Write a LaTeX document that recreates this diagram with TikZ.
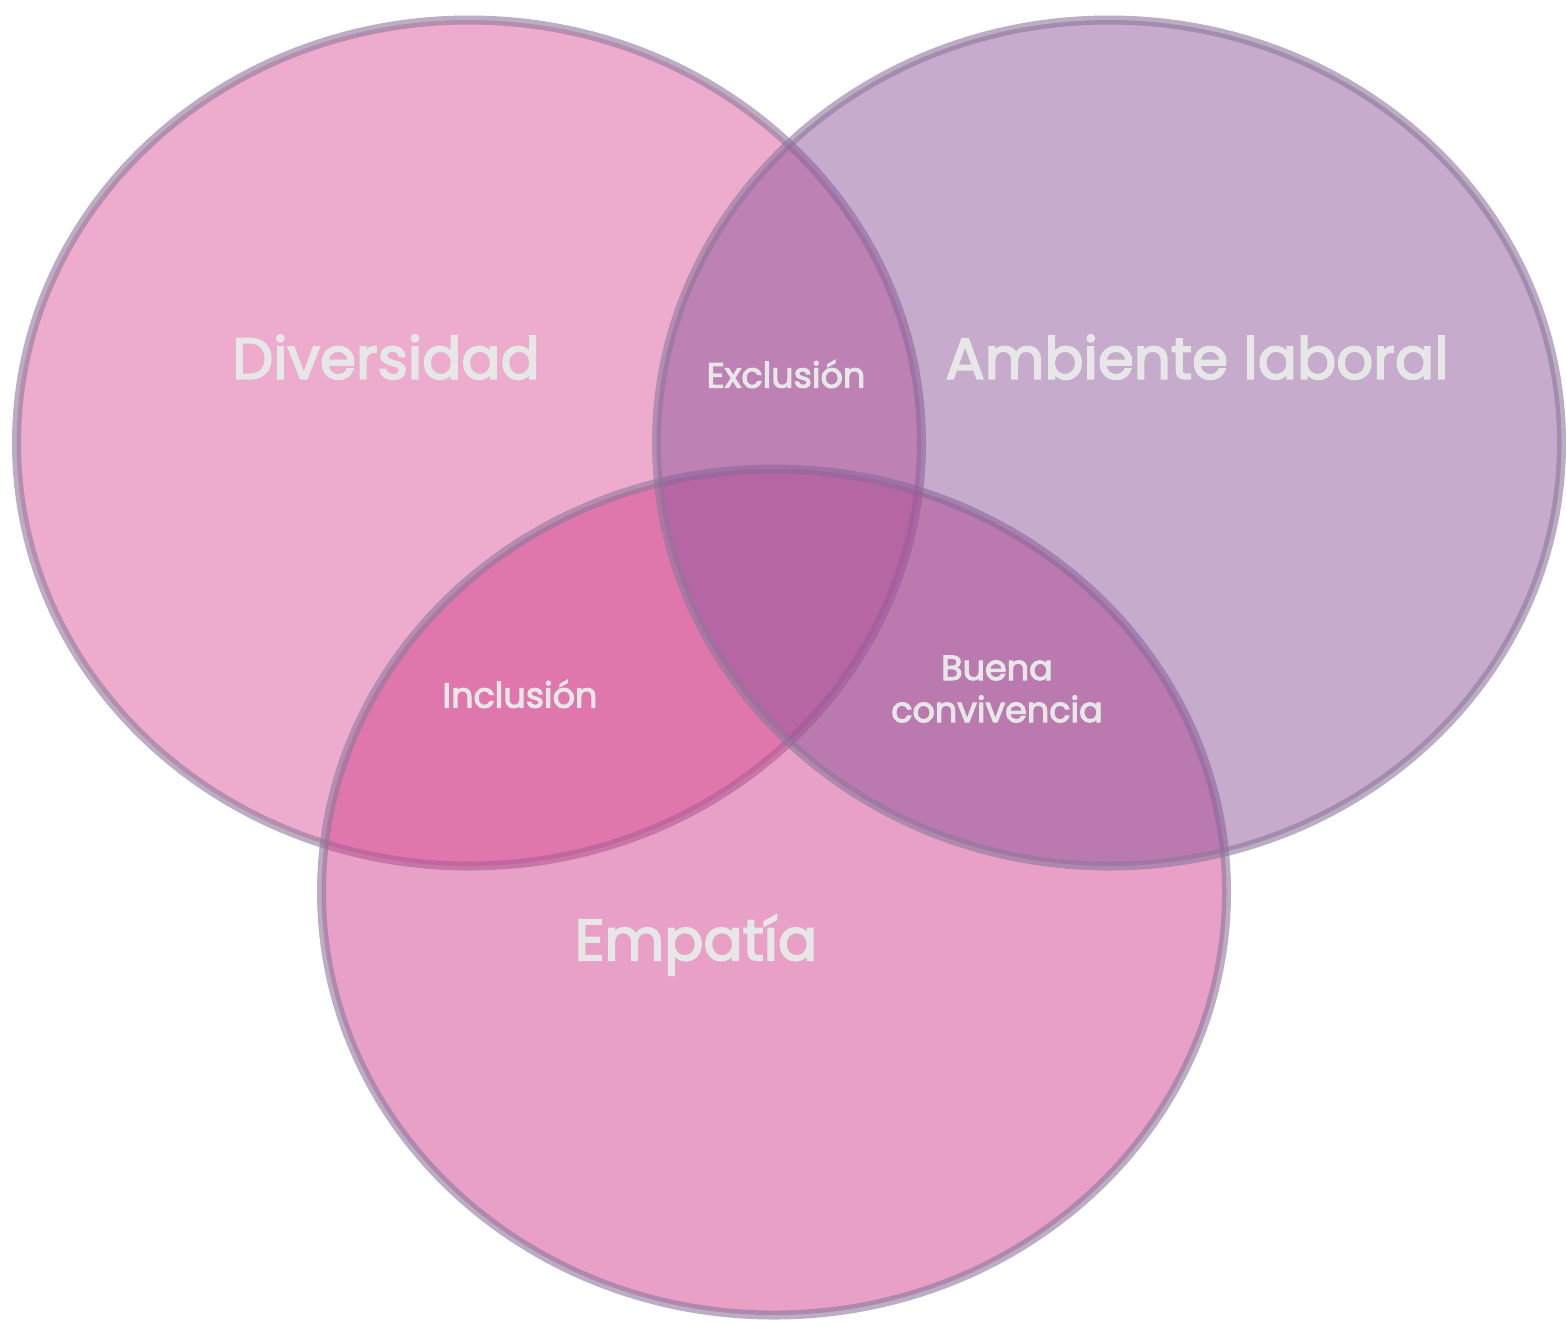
\documentclass[tikz,border=0pt]{standalone}
\usepackage{fontspec}
\setmainfont{Poppins}
\newfontfamily\medio{Poppins}[FakeBold=3]
\usetikzlibrary{shapes.geometric}
\definecolor{rosa}{HTML}{DB599B}
\definecolor{malva}{HTML}{8D579B}
\definecolor{fucsia}{HTML}{D1418D}
\definecolor{borde}{HTML}{8E789C}
\definecolor{letra}{HTML}{E6E7E6}
\begin{document}
\begin{tikzpicture}[x=0.5pt,y=-0.5pt,
  conjunto/.style={ellipse, draw=borde, draw opacity=0.6, line width=4.5pt,
    fill opacity=0.5, inner sep=0pt, minimum width=452.5pt, minimum height=423pt},
  titulo/.style={text=letra, font=\medio\fontsize{29}{34}\selectfont},
  cruce/.style={text=letra, font=\medio\fontsize{17.5}{21}\selectfont, align=center}]
  \useasboundingbox (0,0) rectangle (1566,1324);
  % los tres conjuntos
  \node[conjunto, fill=rosa] (diversidad) at (469,443) {};
  \node[conjunto, fill=fucsia] (empatia) at (774,892) {};
  \node[conjunto, fill=malva] (ambiente) at (1109,443) {};
  % nombres
  \node[titulo] (tdiv) at (386,357) {Diversidad};
  \node[titulo] (tamb) at (1197,357) {Ambiente laboral};
  \node[titulo] (temp) at (696,945) {Empatía};
  % cruces
  \node[cruce] (texc) at (786,374) {Exclusión};
  \node[cruce] (tinc) at (520,694) {Inclusión};
  \node[cruce] (tbue) at (997,689) {Buena\\convivencia};
\end{tikzpicture}
\end{document}
